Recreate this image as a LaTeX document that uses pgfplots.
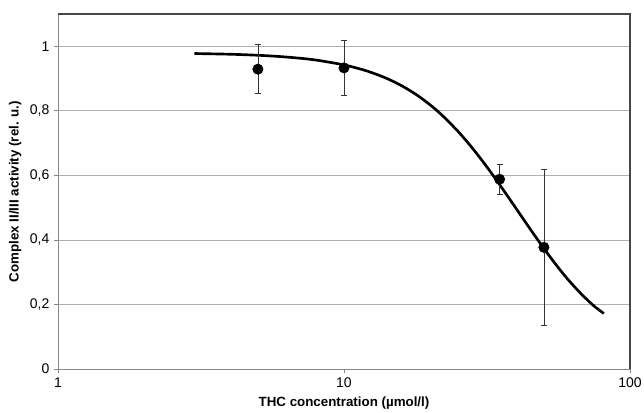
\documentclass[border=0pt]{standalone}
\usepackage{fontspec}
\setmainfont{Liberation Sans}
\usepackage{pgfplots}
\pgfplotsset{compat=1.18}

\definecolor{gridgray}{RGB}{175,175,175}
\definecolor{axisgray}{RGB}{135,135,135}
\definecolor{framegray}{RGB}{70,70,70}

% measured data (mean, error)
\pgfplotstableread{
x     y      err
5     0.929  0.076
10    0.933  0.084
35    0.588  0.047
50    0.377  0.243
}\measured

% fitted dose-response curve
\pgfplotstableread{
x   y
3   0.9775
4   0.9753
5   0.9721
6   0.9680
7   0.9630
8   0.9571
10  0.9422
12  0.9237
14  0.9016
16  0.8765
18  0.8486
20  0.8185
22  0.7867
25  0.7370
28  0.6863
31  0.6360
34  0.5873
37  0.5407
40  0.4970
44  0.4434
48  0.3955
52  0.3529
56  0.3154
60  0.2825
65  0.2480
70  0.2190
75  0.1945
81  0.1720
}\fitcurve

\begin{document}
\begin{tikzpicture}[x=1pt,y=1pt]
\useasboundingbox (0,0) rectangle (483,309.75);
\begin{axis}[
    at={(43.5pt,33pt)}, anchor=south west,
    scale only axis,
    width=429pt, height=266.25pt,
    xmode=log,
    xmin=1, xmax=100,
    ymin=0, ymax=1.1,
    xtick={1,10,100}, xticklabels={1,10,100},
    xminorticks=false,
    ytick={0,0.2,0.4,0.6,0.8,1},
    yticklabel style={/pgf/number format/.cd, use comma, fixed, precision=1},
    /pgf/number format/assume math mode=true,
    tick label style={font=\fontsize{10.5}{12}\selectfont},
    xtick pos=left, ytick pos=left,
    tick align=outside,
    major tick length=3pt,
    tick style={axisgray, line width=0.6pt},
    axis line style={axisgray, line width=0.7pt},
    ymajorgrids,
    grid style={gridgray, line width=0.6pt},
    xlabel={\textbf{THC concentration (µmol/l)}},
    ylabel={\textbf{Complex II/III activity (rel. u.)}},
    label style={font=\fontsize{10.6}{12}\selectfont},
    every axis x label/.style={at={(axis description cs:0.5,-0.096)}, anchor=center},
    every axis y label/.style={at={(axis description cs:-0.075,0.5)}, anchor=center, rotate=90},
    clip=false,
]
\addplot[black, line width=2pt, smooth, no marks] table[x=x, y=y] {\fitcurve};
\addplot[only marks, mark=*, mark size=3.9pt, black,
    error bars/.cd, y dir=both, y explicit,
    error bar style={black!80, line width=0.6pt},
    error mark options={black!80, line width=0.6pt, mark size=2.2pt, rotate=90}]
    table[x=x, y=y, y error=err] {\measured};
\draw[framegray, line width=1.1pt] (rel axis cs:0,1) -- (rel axis cs:1,1) -- (rel axis cs:1,0);
\end{axis}
\end{tikzpicture}
\end{document}
